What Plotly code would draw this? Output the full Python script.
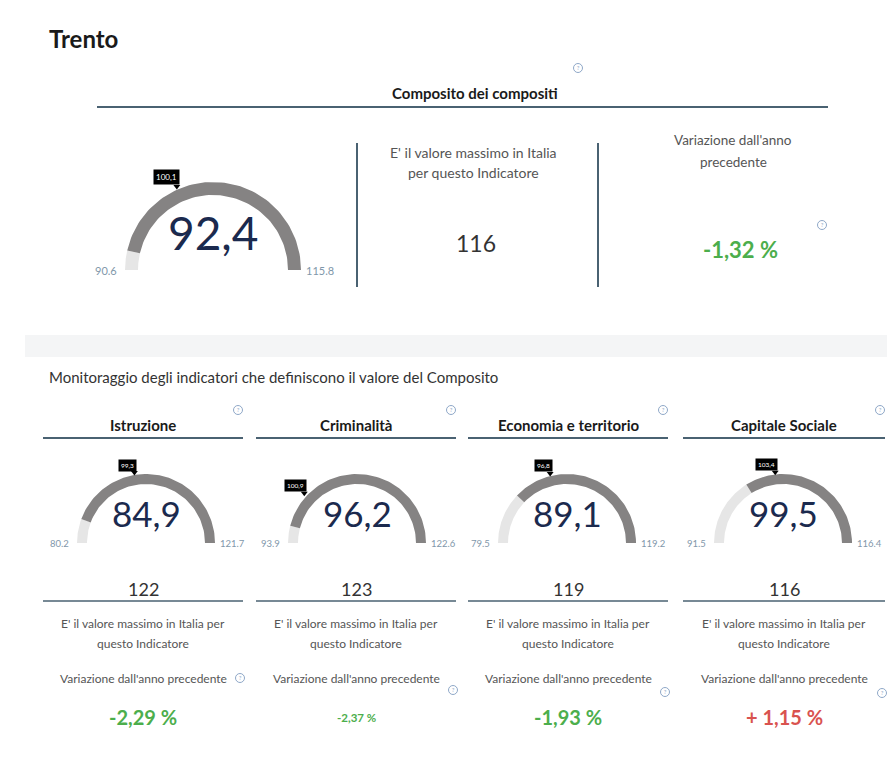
import numpy as np
import plotly.graph_objects as go

# composite indicator (top gauge)
comp_title = "Composito dei compositi"
comp_value = 92.4
comp_min = 90.6
comp_max = 115.8
comp_italy = 100.1
comp_max_italia = 116
comp_var = -1.32

# sub-indicators
titles = ["Istruzione", "Criminalità", "Economia e territorio", "Capitale Sociale"]
values = [84.9, 96.2, 89.1, 99.5]
mins = [80.2, 93.9, 79.5, 91.5]
maxs = [121.7, 122.6, 119.2, 116.4]
italy = [99.3, 100.9, 96.8, 103.4]
max_italia = [122, 123, 119, 116]
variazione = [-2.29, -2.37, -1.93, 1.15]

W, H = 895, 765
PAGE_PAD = 8  # default body margin of the html page
FONT = "Lato"
NAVY = "#1b2a4e"
LINE = "#4a6272"
GREY_TXT = "#555555"
LBL = "#7f97aa"
DARK_ARC = "#858383"
LIGHT_ARC = "#e6e6e6"
GREEN = "#4cae4c"
RED = "#d9534f"
INFO = "#8fa8c8"


def it(v, d=1):
    return f"{v:.{d}f}".replace(".", ",")


def var_txt(v):
    s = it(abs(v), 2) + " %"
    return ("+ " + s) if v > 0 else ("-" + s)


def ang(v, lo, hi):
    return np.pi * (1 - (v - lo) / (hi - lo))


def arc(v0, v1, lo, hi, cx, cy, ro, ri):
    t = np.linspace(ang(v0, lo, hi), ang(v1, lo, hi), 80)
    xs = np.concatenate([cx + ro * np.cos(t), cx + ri * np.cos(t[::-1])])
    ys = np.concatenate([cy - ro * np.sin(t), cy - ri * np.sin(t[::-1])])
    return np.append(xs, xs[0]), np.append(ys, ys[0])


fig = go.Figure()
ann = []
shapes = []


def text(x, y, s, size, color="#333333", bold=False, xanchor="center"):
    ann.append(dict(x=x, y=y, text=f"<b>{s}</b>" if bold else s, showarrow=False,
                    xanchor=xanchor, yanchor="middle",
                    font=dict(family=FONT, size=size, color=color)))


def hline(x0, x1, y, w=2):
    shapes.append(dict(type="line", x0=x0, x1=x1, y0=y, y1=y, line=dict(color=LINE, width=w)))


def gauge(val, lo, hi, avg, cx, cy, ro, ri, num_size, lbl_size, tip_size):
    for a, b, c in [(lo, val, LIGHT_ARC), (val, hi, DARK_ARC)]:
        xs, ys = arc(a, b, lo, hi, cx, cy, ro, ri)
        fig.add_trace(go.Scatter(x=xs, y=ys, fill="toself", fillcolor=c, mode="lines",
                                 line=dict(width=0, color=c), hoverinfo="skip", showlegend=False))
    text(cx, cy - 0.43 * ro, it(val), num_size, NAVY)
    text(cx - ro - 6, cy, f"{lo:.1f}", lbl_size, LBL, xanchor="right")
    text(cx + ro + 3, cy, f"{hi:.1f}", lbl_size, LBL, xanchor="left")
    t = ang(avg, lo, hi)
    px, py = cx + ro * np.cos(t), cy - ro * np.sin(t)
    fig.add_trace(go.Scatter(x=[px - 3], y=[py - 2], mode="markers", hoverinfo="skip", showlegend=False,
                             marker=dict(symbol="triangle-down", size=6, color="black")))
    ann.append(dict(x=px, y=py - 3, text=it(avg), showarrow=False, xanchor="right", yanchor="bottom",
                    bgcolor="black", borderpad=2,
                    font=dict(family=FONT, size=tip_size, color="white")))


info_x, info_y = [], []

# header
text(47, 38, "Trento", 24, "#1a1a1a", bold=True, xanchor="left")
text(475, 93, comp_title, 15, "#1a1a1a", bold=True)
hline(97, 828, 107)
info_x += [578, 822]
info_y += [68, 225]

# top gauge + side boxes
gauge(comp_value, comp_min, comp_max, comp_italy, 213, 270, 88, 75, 46, 11, 8)
shapes.append(dict(type="line", x0=357, x1=357, y0=143, y1=287, line=dict(color=LINE, width=2)))
shapes.append(dict(type="line", x0=598, x1=598, y0=143, y1=287, line=dict(color=LINE, width=2)))
text(473, 152, "E' il valore massimo in Italia", 14, GREY_TXT)
text(473, 172, "per questo Indicatore", 14, GREY_TXT)
text(476, 243, str(comp_max_italia), 23, "#333333")
text(733, 140, "Variazione dall'anno", 13.5, GREY_TXT)
text(733, 162, "precedente", 13.5, GREY_TXT)
text(740, 249, var_txt(comp_var), 22, GREEN if comp_var < 0 else RED, bold=True)

# separator band
shapes.append(dict(type="rect", x0=25, x1=W, y0=335, y1=357, fillcolor="#f4f5f6", line=dict(width=0),
                   layer="below"))
text(47, 377, "Monitoraggio degli indicatori che definiscono il valore del Composito", 15, "#333333",
     xanchor="left")

# panels
line_x0 = [43, 256, 468, 683]
line_x1 = [243, 456, 668, 885]
gauge_dx = [3, 1, -1, -1]
var_sizes = [20, 11.5, 20, 20]
low_info_y = [678, 690, 692, 693]
for i in range(4):
    cx = (line_x0[i] + line_x1[i]) / 2
    text(cx, 425, titles[i], 15, "#1a1a1a", bold=True)
    hline(line_x0[i], line_x1[i], 438)
    gauge(values[i], mins[i], maxs[i], italy[i], cx + gauge_dx[i], 543, 69, 59, 35, 9.5, 6.5)
    text(cx, 589, str(max_italia[i]), 18, "#333333")
    hline(line_x0[i], line_x1[i], 601, 1.5)
    text(cx, 623, "E' il valore massimo in Italia per", 12, GREY_TXT)
    text(cx, 643, "questo Indicatore", 12, GREY_TXT)
    text(cx, 678, "Variazione dall'anno precedente", 12, GREY_TXT)
    text(cx, 717, var_txt(variazione[i]), var_sizes[i], GREEN if variazione[i] < 0 else RED, bold=True)
    info_x += [line_x1[i] - 5, line_x1[i] - 3]
    info_y += [410, low_info_y[i]]

fig.add_trace(go.Scatter(x=info_x, y=info_y, mode="markers+text", text=["?"] * len(info_x),
                         textposition="middle center", hoverinfo="skip", showlegend=False,
                         textfont=dict(size=6, color=INFO, family=FONT),
                         marker=dict(symbol="circle-open", size=9, color=INFO, line=dict(width=1))))

fig.update_layout(
    width=W - PAGE_PAD, height=H - PAGE_PAD, margin=dict(l=0, r=0, t=0, b=0),
    paper_bgcolor="white", plot_bgcolor="white",
    xaxis=dict(range=[PAGE_PAD, W], visible=False, fixedrange=True),
    yaxis=dict(range=[H, PAGE_PAD], visible=False, fixedrange=True),
    annotations=ann, shapes=shapes,
)
fig.write_html("out.html")
